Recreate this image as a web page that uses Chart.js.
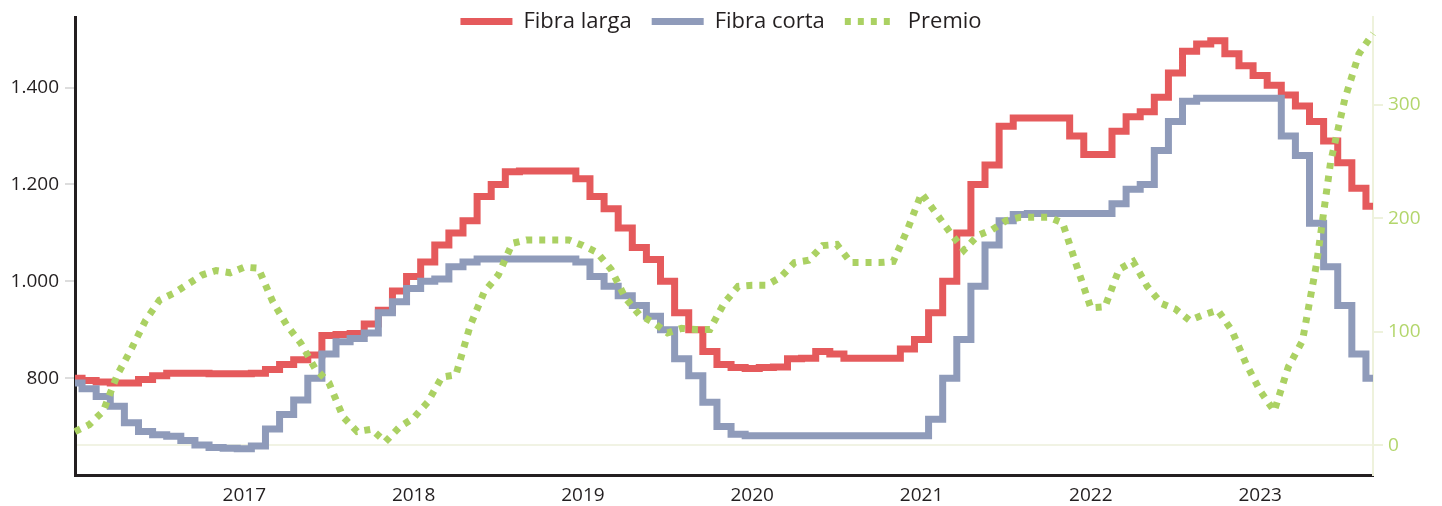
<!DOCTYPE html>
<html lang="es">
<head>
<meta charset="utf-8">
<title>Fibra larga / Fibra corta / Premio</title>
<script src="https://cdn.jsdelivr.net/npm/chart.js@4.4.0/dist/chart.umd.min.js"></script>
<style>
    html, body { margin: 0; padding: 0; background: #ffffff; }
    #contenedor { width: 1442px; height: 506px; position: relative; }
</style>
</head>
<body>
<div id="contenedor"><canvas id="graficoFibras"></canvas></div>
<script>
// Meses de ene-2016 a sep-2023 (un dato por mes)
const meses = [];
for (let anio = 2016; anio <= 2023; anio++) {
    for (let m = 1; m <= 12; m++) {
        if (anio === 2023 && m > 9) break;
        meses.push(anio + '-' + String(m).padStart(2, '0'));
    }
}

// Precio fibra larga (eje izquierdo)
const fibraLarga = [
    800, 795, 792, 790, 790, 797, 805, 810, 810, 810, 809, 809,
    809, 810, 818, 828, 838, 848, 888, 890, 892, 912, 940, 980,
    1010, 1040, 1075, 1100, 1125, 1175, 1200, 1226, 1228, 1228, 1228, 1228,
    1212, 1175, 1150, 1110, 1070, 1045, 1000, 935, 900, 855, 828, 822,
    820, 822, 823, 840, 841, 855, 850, 841, 841, 841, 841, 860,
    880, 935, 1000, 1100, 1200, 1240, 1320, 1337, 1337, 1337, 1337, 1300,
    1262, 1262, 1310, 1340, 1350, 1380, 1430, 1475, 1490, 1497, 1470, 1445,
    1425, 1405, 1385, 1362, 1330, 1290, 1245, 1192, 1155
];

// Precio fibra corta (eje izquierdo)
const fibraCorta = [
    790, 778, 762, 742, 708, 690, 683, 680, 671, 662, 657, 655,
    654, 660, 695, 725, 755, 800, 850, 875, 882, 893, 935, 958,
    985, 1000, 1005, 1030, 1040, 1046, 1046, 1046, 1046, 1046, 1046, 1046,
    1040, 1010, 990, 970, 950, 928, 900, 840, 805, 750, 700, 684,
    681, 681, 681, 681, 681, 681, 681, 681, 681, 681, 681, 681,
    681, 715, 800, 880, 990, 1075, 1125, 1138, 1140, 1140, 1140, 1140,
    1140, 1140, 1160, 1190, 1200, 1270, 1330, 1372, 1378, 1378, 1378, 1378,
    1378, 1378, 1300, 1260, 1120, 1030, 950, 850, 800
];

// Premio (eje derecho)
const premio = [
    12, 18, 30, 62, 85, 110, 128, 134, 142, 150, 154, 152,
    157, 156, 127, 106, 90, 68, 55, 25, 12, 14, 3, 16,
    24, 38, 60, 62, 105, 135, 150, 178, 181, 181, 181, 181,
    176, 170, 155, 130, 115, 108, 99, 103, 102, 102, 125, 140,
    141, 141, 148, 161, 163, 176, 177, 161, 161, 161, 162, 190,
    222, 205, 188, 172, 185, 190, 198, 201, 201, 201, 196, 158,
    121, 122, 155, 162, 140, 125, 120, 110, 115, 119, 101, 72,
    48, 30, 69, 92, 160, 250, 305, 345, 363
];

const ticksIzq = [800, 1000, 1200, 1400];
const ticksDer = [0, 100, 200, 300];

const COLOR_TEXTO = '#231f20';
const COLOR_VERDE = '#b3d66c';
const FUENTE = "'Open Sans', sans-serif";

// formato con punto de miles: 1400 -> 1.400
function formatoMiles(v) {
    return String(v).replace(/\B(?=(\d{3})+(?!\d))/g, '.');
}

// La leyenda no ocupa espacio: queda encima del area del grafico
// (y se amplia su recorte para que no corte el texto)
const leyendaCompacta = {
    id: 'leyendaCompacta',
    beforeInit(chart) {
        const fitOriginal = chart.legend.fit;
        chart.legend.fit = function () {
            fitOriginal.bind(chart.legend)();
            this.height = 27;
        };
    },
    afterLayout(chart) {
        chart.legend.bottom = chart.legend.top + 60;
    }
};

new Chart(document.getElementById('graficoFibras'), {
    type: 'line',
    data: {
        labels: meses,
        datasets: [
            {
                label: 'Fibra larga',
                data: fibraLarga,
                yAxisID: 'y',
                borderColor: '#e55a5c',
                backgroundColor: '#e55a5c',
                borderWidth: 7,
                stepped: 'middle',
                pointRadius: 0,
                order: 2
            },
            {
                label: 'Fibra corta',
                data: fibraCorta,
                yAxisID: 'y',
                borderColor: '#8f9bba',
                backgroundColor: '#8f9bba',
                borderWidth: 7,
                stepped: 'middle',
                pointRadius: 0,
                order: 1
            },
            {
                label: 'Premio',
                data: premio,
                yAxisID: 'y2',
                borderColor: '#abd163',
                backgroundColor: '#abd163',
                borderWidth: 7,
                borderDash: [6, 7],
                pointRadius: 0,
                order: 0
            }
        ]
    },
    options: {
        responsive: true,
        maintainAspectRatio: false,
        animation: false,
        layout: { padding: { top: -12, left: 0, right: 0, bottom: 0 } },
        plugins: {
            legend: {
                position: 'top',
                labels: {
                    usePointStyle: true,
                    pointStyleWidth: 52,
                    padding: 20,
                    color: COLOR_TEXTO,
                    font: { family: FUENTE, size: 22 },
                    // una linea por serie, en el orden de los datos
                    generateLabels: (chart) => chart.data.datasets.map((ds, i) => ({
                        text: ds.label,
                        fillStyle: ds.borderColor,
                        strokeStyle: ds.borderColor,
                        lineWidth: ds.borderWidth,
                        lineDash: ds.borderDash || [],
                        lineCap: 'butt',
                        pointStyle: 'line',
                        fontColor: COLOR_TEXTO,
                        hidden: false,
                        datasetIndex: i
                    }))
                }
            },
            tooltip: { enabled: false }
        },
        scales: {
            x: {
                afterFit: (s) => { s.height = 31; },
                grid: { display: false },
                border: { display: true, color: COLOR_TEXTO, width: 3 },
                ticks: {
                    autoSkip: false,
                    maxRotation: 0,
                    padding: 1,
                    color: COLOR_TEXTO,
                    font: { family: FUENTE, size: 19 },
                    callback: (val, i) => (i > 0 && meses[i].endsWith('-01')) ? meses[i].slice(0, 4) : ''
                }
            },
            y: {
                position: 'left',
                min: 600,
                max: 1545,
                afterFit: (s) => { s.width = 75; },
                afterBuildTicks: (s) => { s.ticks = ticksIzq.map(v => ({ value: v })); },
                grid: { drawOnChartArea: false, color: '#dddddd', lineWidth: 2, tickLength: 10 },
                border: { display: true, color: COLOR_TEXTO, width: 3 },
                ticks: {
                    padding: 6,
                    color: COLOR_TEXTO,
                    font: { family: FUENTE, size: 19 },
                    callback: (v) => formatoMiles(v)
                }
            },
            y2: {
                position: 'right',
                min: -26.3,
                max: 377.2,
                afterFit: (s) => { s.width = 69; },
                afterBuildTicks: (s) => { s.ticks = ticksDer.map(v => ({ value: v })); },
                grid: {
                    drawOnChartArea: true,
                    color: (ctx) => ctx.tick && ctx.tick.value === 0 ? '#f1f3e4' : 'rgba(0,0,0,0)',
                    tickColor: '#eef2dc',
                    lineWidth: 2,
                    tickLength: 10
                },
                border: { display: true, color: '#eef2dc', width: 2 },
                ticks: {
                    padding: 5,
                    color: COLOR_VERDE,
                    font: { family: FUENTE, size: 19 }
                }
            }
        }
    },
    plugins: [leyendaCompacta]
});
</script>
</body>
</html>
